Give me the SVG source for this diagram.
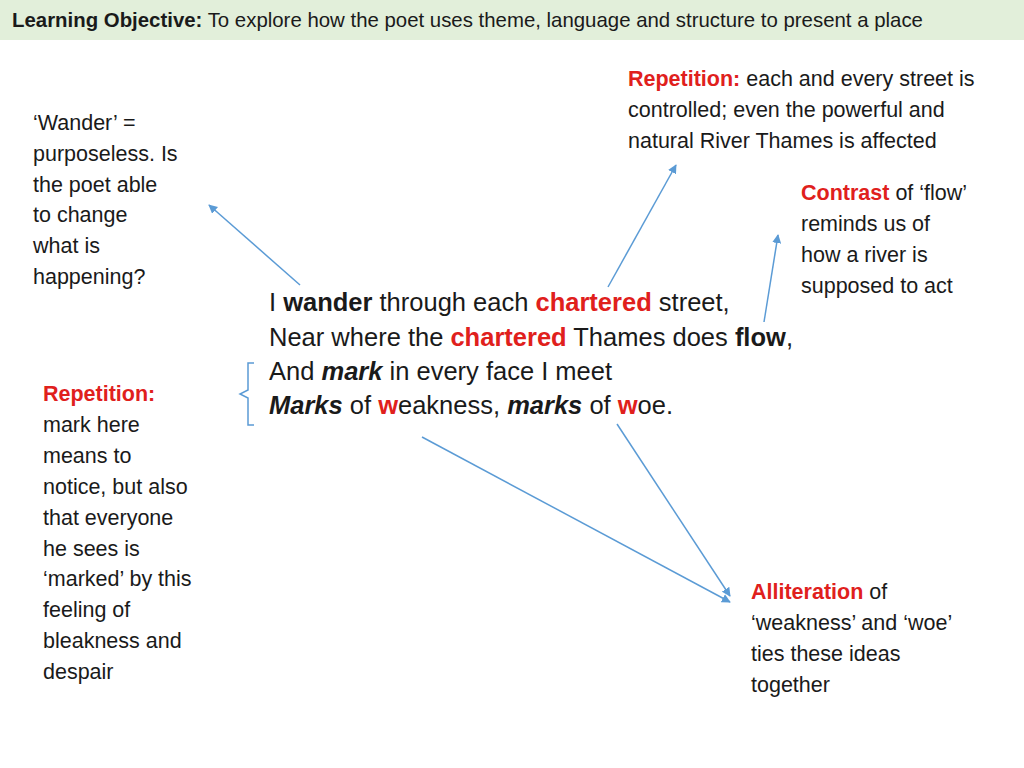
<svg xmlns="http://www.w3.org/2000/svg" width="1024" height="768" viewBox="0 0 1024 768">
<style>
text{font-family:"Liberation Sans",Arial,sans-serif;fill:#1a1a1a}
.a{font-size:21.5px}
.p{font-size:25.5px}
.r{fill:#e0201c;font-weight:bold}
.b{font-weight:bold}
.i{font-style:italic;font-weight:bold}
.c{stroke:#5b9bd5;stroke-width:1.5;fill:none}
</style>
<defs><marker id="m" viewBox="0 0 10 10" refX="9" refY="5" markerWidth="9" markerHeight="9" orient="auto" markerUnits="userSpaceOnUse"><path d="M0,0L10,5L0,10z" fill="#5b9bd5"/></marker></defs>
<rect x="0" y="0" width="1024" height="40" fill="#e2efda"/>
<text x="12" y="27" font-size="20.4"><tspan class="b">Learning Objective:</tspan> To explore how the poet uses theme, language and structure to present a place</text>
<g id="connectors">
<line class="c" x1="300" y1="285" x2="209" y2="205" marker-end="url(#m)"/>
<line class="c" x1="608" y1="287" x2="676" y2="165" marker-end="url(#m)"/>
<line class="c" x1="764" y1="322" x2="778" y2="235" marker-end="url(#m)"/>
<line class="c" x1="422" y1="437" x2="730" y2="602" marker-end="url(#m)"/>
<line class="c" x1="617" y1="424" x2="730" y2="596" marker-end="url(#m)"/>
<path class="c" d="M254,363 H248 V390 L240,394 L248,398 V425 H254"/>
</g>
<g id="poem" class="p">
<text x="269" y="311">I <tspan class="b">wander</tspan> through each <tspan class="r">chartered</tspan> street,</text>
<text x="269" y="346">Near where the <tspan class="r">chartered</tspan> Thames does <tspan class="b">flow</tspan>,</text>
<text x="269" y="380">And <tspan class="i">mark</tspan> in every face I meet</text>
<text x="269" y="414"><tspan class="i">Marks</tspan> of <tspan class="r">w</tspan>eakness, <tspan class="i">marks</tspan> of <tspan class="r">w</tspan>oe.</text>
</g>
<g id="wander" class="a">
<text x="33" y="130">‘Wander’ =</text>
<text x="33" y="161">purposeless. Is</text>
<text x="33" y="192">the poet able</text>
<text x="33" y="222">to change</text>
<text x="33" y="253">what is</text>
<text x="33" y="284">happening?</text>
</g>
<g id="rep1" class="a">
<text x="628" y="86"><tspan class="r">Repetition:</tspan> each and every street is</text>
<text x="628" y="117">controlled; even the powerful and</text>
<text x="628" y="148">natural River Thames is affected</text>
</g>
<g id="contrast" class="a">
<text x="801" y="200"><tspan class="r">Contrast</tspan> of ‘flow’</text>
<text x="801" y="231">reminds us of</text>
<text x="801" y="262">how a river is</text>
<text x="801" y="293">supposed to act</text>
</g>
<g id="rep2" class="a">
<text x="43" y="401" class="r">Repetition:</text>
<text x="43" y="432">mark here</text>
<text x="43" y="463">means to</text>
<text x="43" y="494">notice, but also</text>
<text x="43" y="525">that everyone</text>
<text x="43" y="556">he sees is</text>
<text x="43" y="586">‘marked’ by this</text>
<text x="43" y="617">feeling of</text>
<text x="43" y="648">bleakness and</text>
<text x="43" y="679">despair</text>
</g>
<g id="allit" class="a">
<text x="751" y="599"><tspan class="r">Alliteration</tspan> of</text>
<text x="751" y="630">‘weakness’ and ‘woe’</text>
<text x="751" y="661">ties these ideas</text>
<text x="751" y="692">together</text>
</g>
</svg>
